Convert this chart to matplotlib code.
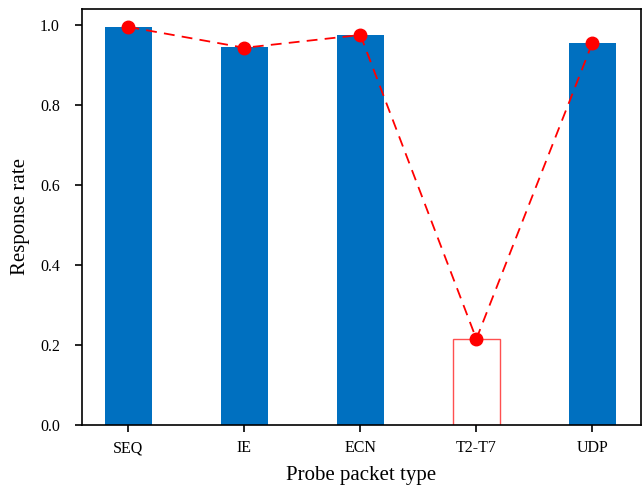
import matplotlib
matplotlib.use("Agg")
import matplotlib.pyplot as plt

plt.rcParams['font.family'] = ['Liberation Serif', 'DejaVu Serif']

categories = ["SEQ", "IE", "ECN", "T2-T7", "UDP"]
bar_values = [0.995, 0.945, 0.975, 0.215, 0.955]
line_values = [0.995, 0.943, 0.975, 0.215, 0.955]

fig = plt.figure(figsize=(6.43, 4.9), dpi=100)
ax = fig.add_axes([0.1275, 0.1327, 0.8695, 0.849])

x = list(range(len(categories)))
for i, v in enumerate(bar_values):
    if categories[i] == "T2-T7":
        ax.bar(i, v, width=0.4, facecolor='white', edgecolor='#FF5050', linewidth=1.0, zorder=2)
    else:
        ax.bar(i, v, width=0.4, color='#0070C0', zorder=2)

ax.plot(x, line_values, color='#FF0000', linestyle=(0, (6, 4)), linewidth=1.3,
        marker='o', markersize=9, zorder=3)

ax.set_xlim(-0.4, 4.42)
ax.set_ylim(0, 1.04)
ax.set_xticks(x)
ax.set_xticklabels(categories)
ax.set_yticks([0.0, 0.2, 0.4, 0.6, 0.8, 1.0])
ax.set_yticklabels(["0.0", "0.2", "0.4", "0.6", "0.8", "1.0"])
ax.tick_params(axis='both', labelsize=11.5, direction='out', length=5, width=1.2)
ax.tick_params(axis='y', pad=11)
ax.tick_params(axis='x', pad=6)
ax.set_xlabel("Probe packet type", fontsize=15, labelpad=7)
ax.set_ylabel("Response rate", fontsize=15, labelpad=7)
for s in ax.spines.values():
    s.set_linewidth(1.2)

fig.savefig("out.png", dpi=100)
